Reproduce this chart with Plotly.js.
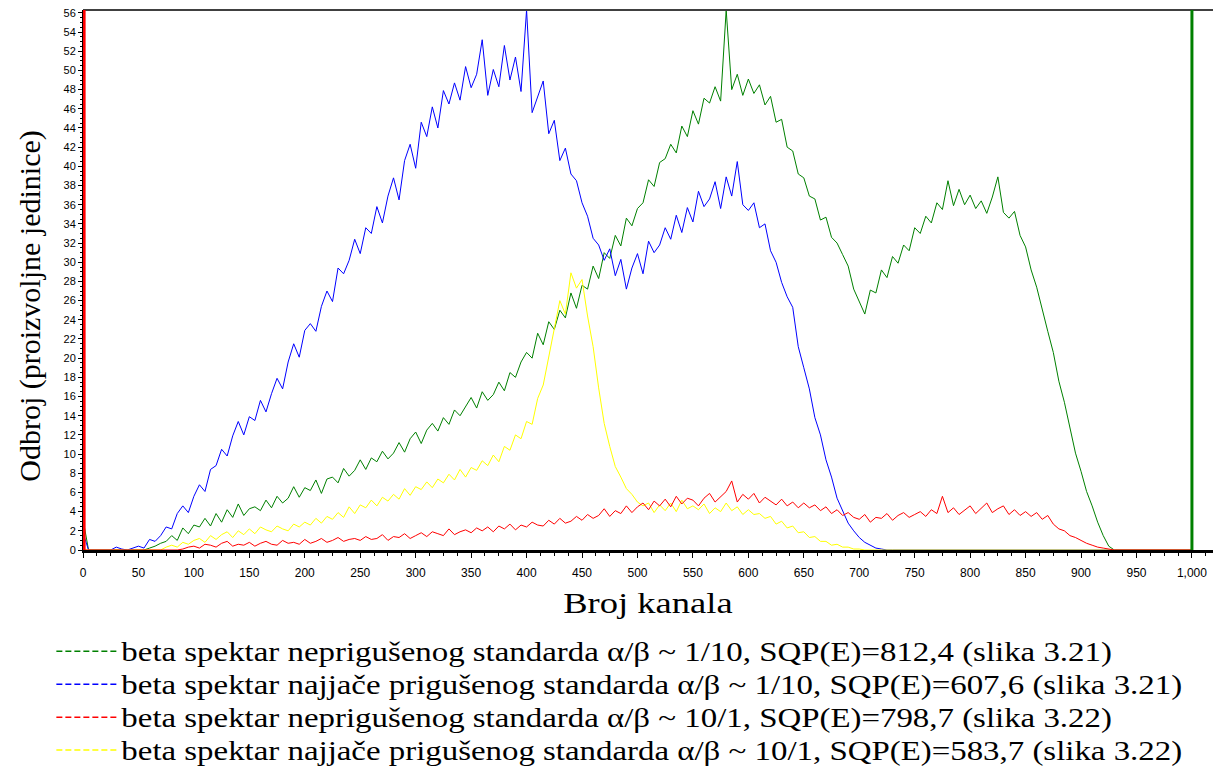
<!DOCTYPE html>
<html>
<head>
<meta charset="utf-8">
<script src="https://cdn.plot.ly/plotly-3.0.1.min.js"></script>
<style>
html,body{margin:0;padding:0;background:#fff}
#chart{width:1215px;height:774px}
#chart .legend .scrollbox{clip-path:none !important}
#chart .legendtext{transform:scale(1.43,1.15);transform-box:fill-box;transform-origin:0% 50%}
#chart .xtitle{transform:scaleX(1.26);transform-box:fill-box;transform-origin:50% 50%}
#chart .ytitle{translate:0px 26px}
</style>
</head>
<body>
<div id="chart"></div>
<script>
// channel grid: every 5th channel, 0..1000
const channelStep = 5;
const channelCount = 201;

const seriesNames = [
  "beta spektar neprigušenog standarda α/β ~ 1/10, SQP(E)=812,4 (slika 3.21)",
  "beta spektar najjače prigušenog standarda α/β ~ 1/10, SQP(E)=607,6 (slika 3.21)",
  "beta spektar neprigušenog standarda α/β ~ 10/1, SQP(E)=798,7 (slika 3.22)",
  "beta spektar najjače prigušenog standarda α/β ~ 10/1, SQP(E)=583,7 (slika 3.22)"
];
const seriesColors = ["#008000", "#0000ff", "#ff0000", "#ffff00"];

// green: unquenched standard, alpha/beta ~ 1/10 (one row = 50 channels)
const greenCounts = [
  3.2,0,0,0,0,0,0,0,0,0,
  0,0,0.2,0.4,0.7,0.9,1.5,1.0,2.3,1.7,
  2.6,2.4,3.3,2.5,3.8,2.9,4.2,3.4,4.8,3.6,
  4.3,4.5,4.1,5.2,4.4,5.6,4.9,5.4,6.6,5.5,
  6.5,6.2,7.3,5.9,7.4,7.6,7.0,8.5,7.7,8.3,
  9.4,8.4,9.6,9.2,10.3,9.5,10.1,11.2,10.2,11.6,
  12.3,11.1,12.5,13.2,12.4,13.8,13.1,14.6,14.0,14.9,
  15.9,14.8,16.5,15.6,16.2,17.5,16.6,18.5,18.0,19.6,
  20.6,20.0,22.6,21.4,23.8,23.0,25.0,24.2,26.8,25.2,
  27.6,27.2,29.6,28.3,31.0,30.4,32.8,31.7,34.6,33.8,
  35.6,36.2,38.6,37.9,40.4,40.8,42.3,41.4,44.2,43.1,
  45.8,44.4,47.1,46.6,48.3,46.8,56.3,48.0,49.6,47.4,
  49.1,47.6,48.5,46.4,47.3,44.6,44.9,42.0,41.6,39.2,
  38.8,36.9,36.6,34.4,34.7,32.6,32.0,30.8,29.6,27.2,
  25.8,24.6,27.1,26.8,29.2,28.4,30.6,29.9,31.8,31.2,
  33.6,33.0,34.8,34.1,36.2,35.5,38.5,35.9,37.6,36.0,
  37.0,35.6,36.4,35.1,36.8,38.9,35.2,34.6,35.3,32.8,
  31.6,29.2,27.4,25.0,22.8,20.6,17.6,15.4,12.7,10.1,
  8.2,6.1,4.6,2.9,1.5,0.4,0,0,0,0,
  0,0,0,0,0,0,0,0,0,0,
  0
];

// blue: most quenched standard, alpha/beta ~ 1/10
const blueCounts = [
  1.8,0,0,0,0,0,0.3,0.1,0,0.2,
  0.4,0.2,1.1,0.9,1.5,2.4,2.2,3.8,4.6,3.9,
  5.6,6.8,6.1,8.4,8.8,10.5,9.8,11.9,13.4,12.0,
  13.9,13.5,15.6,14.4,16.3,17.9,16.8,19.6,21.5,20.1,
  22.9,23.6,22.8,25.4,27.0,25.9,29.4,28.8,30.2,32.4,
  30.9,33.6,33.0,35.8,34.1,36.9,38.8,36.5,40.6,42.3,
  39.8,44.6,43.1,46.2,44.0,47.9,46.5,48.7,46.9,50.4,
  48.2,49.6,53.2,47.4,50.1,48.3,52.6,49.0,51.4,47.8,
  56.3,45.6,47.2,48.9,43.4,44.8,40.6,41.9,39.2,38.5,
  36.2,34.8,32.5,31.8,30.2,31.4,28.6,30.3,27.2,29.4,
  30.9,28.8,32.2,31.0,31.8,33.6,32.4,34.9,33.1,35.7,
  34.2,37.4,35.8,36.6,38.4,35.6,38.9,36.9,40.5,36.0,
  35.4,36.2,33.6,34.0,31.2,30.0,27.9,26.4,25.3,21.2,
  19.0,16.8,13.8,12.0,9.4,7.6,5.4,4.0,2.8,2.0,
  1.3,0.8,0.5,0.2,0.1,0,0,0,0,0,
  0,0,0,0,0,0,0,0,0,0,
  0,0,0,0,0,0,0,0,0,0,
  0,0,0,0,0,0,0,0,0,0,
  0,0,0,0,0,0,0,0,0,0,
  0,0,0,0,0,0,0,0,0,0,
  0
];

// red: unquenched standard, alpha/beta ~ 10/1
const redCounts = [
  0,0,0,0,0,0,0,0,0,0,
  0,0,0,0,0,0,0,0,0.1,0.3,
  0.4,0.2,0.6,0.5,0.3,0.7,0.9,0.4,0.6,0.5,
  0.8,0.4,0.7,0.9,0.6,0.5,1.0,0.7,0.8,0.6,
  1.1,0.7,0.9,1.2,0.8,1.0,1.3,0.9,1.1,1.2,
  1.0,1.4,1.1,1.2,1.6,1.0,1.4,1.3,1.7,1.2,
  1.5,1.8,1.4,1.9,1.7,1.5,2.2,1.6,1.9,2.1,
  1.8,2.3,2.0,2.4,1.9,2.5,2.2,2.7,2.1,2.6,
  2.4,2.9,2.6,2.5,3.1,2.7,3.3,2.8,3.0,3.5,
  3.1,3.7,3.3,3.6,4.3,3.5,4.1,3.8,4.6,3.9,
  4.5,4.9,4.2,5.1,4.6,5.3,4.5,5.6,4.8,5.4,
  5.2,4.6,5.4,5.9,5.0,5.5,6.1,7.2,5.0,5.8,
  5.3,5.9,4.9,5.5,5.1,4.7,5.3,4.6,5.0,4.4,
  4.9,4.4,4.7,4.1,4.5,3.8,4.2,3.6,3.9,3.4,
  3.2,3.7,2.9,3.4,3.3,3.8,3.1,3.6,3.9,3.4,
  3.7,4.0,3.5,4.2,3.8,5.6,3.9,4.4,3.7,4.2,
  4.6,3.8,4.4,4.9,3.9,4.3,4.6,3.7,4.2,3.6,
  4.0,3.5,3.9,3.2,3.6,2.7,2.2,2.0,1.5,1.3,
  1.0,0.7,0.5,0.3,0.2,0.1,0,0,0,0,
  0,0,0,0,0,0,0,0,0,0,
  0
];

// yellow: most quenched standard, alpha/beta ~ 10/1
const yellowCounts = [
  0,0,0,0,0,0,0,0,0,0,
  0,0,0,0,0,0.3,0.5,0.3,0.8,0.6,
  1.0,1.2,0.8,1.5,1.1,1.6,1.9,1.3,2.0,1.6,
  2.2,1.7,2.4,2.1,1.9,2.5,2.2,2.0,2.7,2.4,
  2.9,2.6,3.3,2.8,3.5,3.2,3.9,3.4,4.5,3.8,
  4.7,4.4,5.2,4.6,5.5,5.1,5.8,5.3,6.4,5.7,
  6.6,6.3,7.1,6.5,7.4,7.0,7.9,7.3,8.4,7.6,
  8.6,8.3,9.3,8.8,9.9,9.2,10.8,10.4,12.0,11.6,
  13.4,13.1,15.8,17.2,20.1,22.8,26.0,24.6,28.9,27.3,
  28.2,24.4,21.2,16.9,13.2,10.8,8.7,7.6,6.4,5.8,
  5.0,4.6,4.9,3.9,4.7,4.1,4.9,4.0,5.2,4.3,
  4.6,4.2,4.8,3.8,4.4,4.0,4.9,4.1,4.5,3.7,
  4.2,3.7,3.8,3.3,3.5,2.7,3.0,2.3,2.5,1.8,
  1.9,1.3,1.4,0.9,0.9,0.5,0.6,0.3,0.3,0.1,
  0.1,0,0,0,0,0,0,0,0,0,
  0,0,0,0,0,0,0,0,0,0,
  0,0,0,0,0,0,0,0,0,0,
  0,0,0,0,0,0,0,0,0,0,
  0,0,0,0,0,0,0,0,0,0,
  0,0,0,0,0,0,0,0,0,0,
  0
];

// counting window markers (channels)
const windowLow = 1;
const windowHigh = 1000;

const xTitle = "Broj kanala";
const yTitle = "Odbroj (proizvoljne jedinice)";

const channels = Array.from({length: channelCount}, (_, i) => i * channelStep);
const allCounts = [greenCounts, blueCounts, redCounts, yellowCounts];
const drawOrder = [0, 1, 3, 2];

const traces = [];
drawOrder.forEach(k => {
  traces.push({
    type: "scatter", mode: "lines",
    x: channels.slice(0, allCounts[k].length), y: allCounts[k],
    line: {color: seriesColors[k], width: 1},
    showlegend: false, hoverinfo: "skip"
  });
});
// legend entries (dashed samples)
seriesNames.forEach((nm, k) => {
  traces.push({
    type: "scatter", mode: "lines", x: [null], y: [null], name: nm,
    line: {color: seriesColors[k], width: 1.5, dash: "6px,3px"}
  });
});

const serif = "Liberation Serif";
const sans = "Arial, Liberation Sans, sans-serif";

const layout = {
  width: 1215, height: 774,
  margin: {l: 83, r: 2, t: 10, b: 212},
  paper_bgcolor: "#ffffff", plot_bgcolor: "#ffffff",
  font: {family: serif, size: 23, color: "#000"},
  showlegend: true,
  legend: {
    x: -0.028, y: -0.148, xanchor: "left", yanchor: "top",
    font: {family: serif, size: 23, color: "#000"},
    tracegroupgap: 0, itemwidth: 60, bgcolor: "rgba(0,0,0,0)"
  },
  xaxis: {
    range: [0, 1019], dtick: 50, tick0: 0, tickformat: ",d",
    showgrid: false, zeroline: false,
    showline: true, linecolor: "#000", linewidth: 3,
    ticks: "outside", ticklen: 5, tickcolor: "#000", tickwidth: 1,
    ticklabelstandoff: 5,
    minor: {dtick: 12.5, ticks: "outside", ticklen: 3, tickcolor: "#000"},
    tickfont: {family: sans, size: 12, color: "#000"},
    title: {text: xTitle, font: {family: serif, size: 29, color: "#000"}, standoff: 14}
  },
  yaxis: {
    range: [0, 56.3], dtick: 2, tick0: 0,
    showgrid: false, zeroline: false,
    showline: true, linecolor: "#000", linewidth: 1,
    ticks: "outside", ticklen: 4, tickcolor: "#000",
    minor: {dtick: 0.5, ticks: "outside", ticklen: 2, tickcolor: "#000"},
    tickfont: {family: sans, size: 11, color: "#000"},
    title: {text: yTitle, font: {family: serif, size: 30, color: "#000"}, standoff: 14}
  },
  shapes: [
    {type: "line", xref: "paper", yref: "paper", x0: 0, x1: 1, y0: 1, y1: 1,
     line: {color: "#404040", width: 2}},
    {type: "line", xref: "x", yref: "paper", x0: windowLow, x1: windowLow, y0: 0, y1: 1,
     line: {color: "#ff0000", width: 3}},
    {type: "line", xref: "x", yref: "paper", x0: windowHigh, x1: windowHigh, y0: 0, y1: 1,
     line: {color: "#008000", width: 3}}
  ]
};

Plotly.newPlot("chart", traces, layout, {staticPlot: true, displayModeBar: false});
</script>
</body>
</html>
